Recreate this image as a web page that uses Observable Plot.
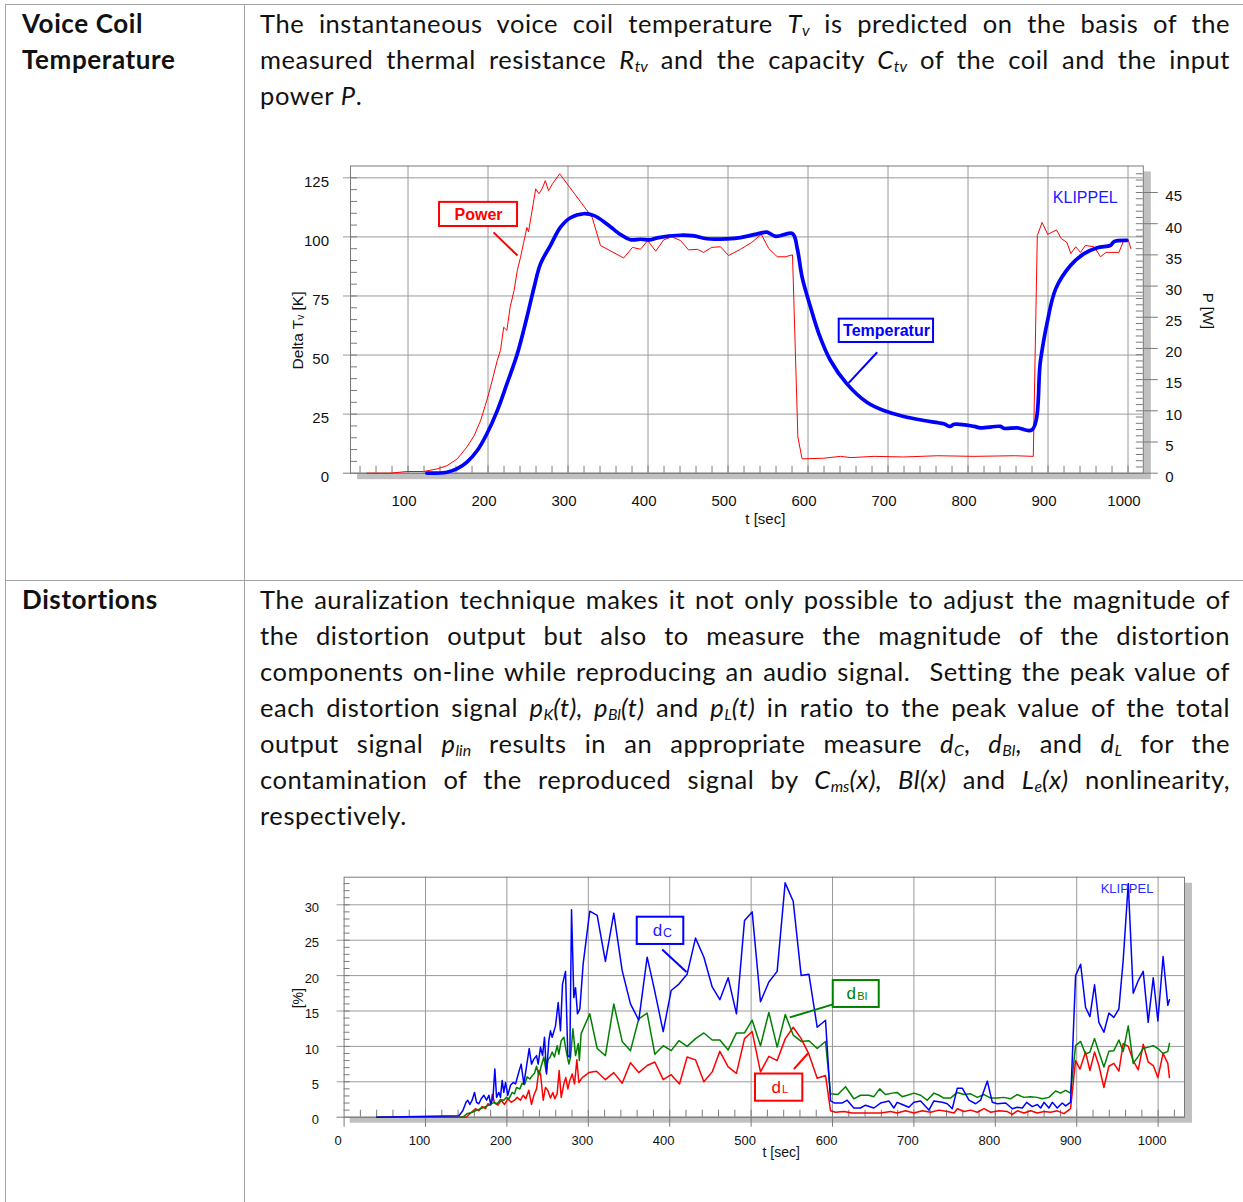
<!DOCTYPE html>
<html><head><meta charset="utf-8">
<script src="https://cdn.jsdelivr.net/npm/d3@7"></script>
<script src="https://cdn.jsdelivr.net/npm/@observablehq/plot@0.6"></script>
<style>
html,body{margin:0;padding:0;background:#fff;}
body{width:1243px;height:1202px;position:relative;overflow:hidden;font-family:Lato,"Open Sans",sans-serif;color:#111;}
.hl{position:absolute;height:1px;background:#a3a3a3;}
.vl{position:absolute;width:1px;background:#a3a3a3;}
.head{position:absolute;left:22px;font-weight:bold;font-size:26px;letter-spacing:0.6px;line-height:36px;}
.para{position:absolute;left:260px;width:970px;font-size:25.5px;letter-spacing:0.6px;line-height:36px;}
.para .ln{height:36px;text-align:justify;text-align-last:justify;}
.para .ln.last{text-align:left;text-align-last:left;}
sub{font-size:0.62em;vertical-align:-0.2em;line-height:0;letter-spacing:0;}
.chart{position:absolute;}
.chart svg{position:absolute;left:0;top:0;}
</style></head>
<body>
<div class="hl" style="left:5px;top:4px;width:1240px"></div>
<div class="hl" style="left:5px;top:580px;width:1240px"></div>
<div class="vl" style="left:5px;top:4px;height:1200px"></div>
<div class="vl" style="left:244px;top:4px;height:1200px"></div>

<div class="head" style="top:5px">Voice Coil<br>Temperature</div>
<div class="para" style="top:5px">
<div class="ln">The instantaneous voice coil temperature <i>T<sub>v</sub></i> is predicted on the basis of the</div>
<div class="ln">measured thermal resistance <i>R<sub>tv</sub></i> and the capacity <i>C<sub>tv</sub></i> of the coil and the input</div>
<div class="ln last">power <i>P</i>.</div>
</div>

<div class="head" style="top:581px">Distortions</div>
<div class="para" style="top:581px">
<div class="ln">The auralization technique makes it not only possible to adjust the magnitude of</div>
<div class="ln">the distortion output but also to measure the magnitude of the distortion</div>
<div class="ln">components on-line while reproducing an audio signal.&nbsp; Setting the peak value of</div>
<div class="ln">each distortion signal <i>p<sub>K</sub>(t), p<sub>Bl</sub>(t)</i> and <i>p<sub>L</sub>(t)</i> in ratio to the peak value of the total</div>
<div class="ln">output signal <i>p<sub>lin</sub></i> results in an appropriate measure <i>d<sub>C</sub></i>, <i>d<sub>Bl</sub></i>, and <i>d<sub>L</sub></i> for the</div>
<div class="ln">contamination of the reproduced signal by <i>C<sub>ms</sub>(x), Bl(x)</i> and <i>L<sub>e</sub>(x)</i> nonlinearity,</div>
<div class="ln last">respectively.</div>
</div>

<div class="chart" id="c1" style="left:280px;top:150px;width:960px;height:390px"></div>
<div class="chart" id="c2" style="left:290px;top:860px;width:950px;height:310px"></div>

<script>
// ---------- Chart 1 data: [t (sec), value] ----------
const temperature = [[123.6,0],[148.6,0.4],[161.6,1.9],[173.6,4.7],[186.6,9.6],[198.6,16.7],[211.6,26.5],[223.6,37.8],[236.6,50.5],[248.6,66],[257.6,78.7],[265.6,88.6],[278.1,96.4],[290.6,104.1],[303.1,108.1],[319.6,109.8],[332.6,109],[348.6,105.5],[365.6,101],[378.1,98.8],[390.6,99],[403.6,98.8],[411.6,99.6],[440.6,100.7],[457.6,100.4],[473.6,99.2],[498.6,99.2],[515.6,99.7],[540.6,101.6],[548.6,102],[559.6,100.2],[580.6,101.4],[586.6,95],[592.6,83],[603.1,70.3],[613.6,59],[628.1,47.7],[648.6,37.8],[673.6,30],[694.6,26.5],[719.6,24],[744.6,22.3],[769.6,20.9],[777.6,19.8],[782.6,20.7],[807.6,19.8],[815.6,19.2],[840.6,19.8],[844.6,19],[861.6,19.2],[880.1,18.4],[890.6,47.7],[898.6,63.2],[909.6,78],[928.1,87.9],[944.6,92.8],[961.6,95.4],[978.1,96.4],[982.6,98],[998.6,98.5]];
const power = [[48.6,0],[77.6,0],[98.6,0.27],[119.6,0.27],[136.6,0.7],[148.6,1.2],[161.6,2.3],[173.6,4.2],[182.6,6.0],[190.6,8.4],[198.6,11.7],[203.1,13.8],[211.6,18.1],[215.6,19.7],[219.6,23.4],[223.6,22.9],[227.6,26.6],[232.6,29.3],[236.6,32.5],[240.6,34.6],[244.6,37.0],[248.6,39.4],[250.6,38.7],[255.1,42.1],[259.6,45.6],[263.6,44.8],[267.6,45.6],[271.6,46.9],[275.6,45.3],[280.6,46.4],[289.6,48.0],[330.2,41.0],[340.6,36.5],[369.6,34.5],[380.6,36.2],[390.6,35.9],[399.6,37.3],[409.6,35.6],[419.6,37.4],[429.6,37.9],[440.6,37.3],[450.6,35.8],[461.6,35.9],[469.6,35.4],[479.6,36.2],[490.6,36.3],[500.6,34.9],[515.6,35.9],[529.6,37.0],[541.6,38.3],[551,36.0],[561.6,34.7],[571.6,34.7],[580.6,35.0],[587.3,5.8],[592.6,2.3],[619.6,2.4],[640.6,2.7],[653.6,2.5],[682.6,2.7],[719.6,2.6],[761.6,2.8],[807.6,2.7],[857.6,2.8],[881.6,2.7],[886.6,38.1],[892.6,40.2],[899.6,38.3],[910.6,39.0],[916.6,37.6],[923.6,37.0],[928.6,35.2],[934.6,36.3],[940.6,35.4],[946.6,36.5],[957.6,36.3],[965.6,34.7],[972.6,35.4],[988.6,35.4],[994.6,37.3],[1000.6,37.3],[1003.6,36.0]];
const c1TimeTicks = [100,200,300,400,500,600,700,800,900,1000];
const c1TempTicks = [0,25,50,75,100,125];
const c1PowerTicks = [0,5,10,15,20,25,30,35,40,45];
const c1Labels = ["Power","Temperatur","KLIPPEL","Delta Tᵥ [K]","P [W]","t [sec]"];

// ---------- Chart 2 data: [t (sec), %] ----------
const dC = [[40,0],[141,0.2],[145.8,0.9],[149.8,2.1],[152,2.4],[154.5,1.8],[157.3,2.4],[160.2,3.5],[162.7,2.1],[165.5,1.9],[168.4,2.6],[171.7,3.1],[175,2.4],[177.8,3.1],[180,1.9],[182.8,2.6],[185.2,6.8],[187.3,2.8],[190.1,3.5],[192.1,2.8],[194.2,5.2],[196.2,3.5],[198.3,4.9],[201.1,3.1],[204.4,4.5],[207.7,4.9],[210.6,4.7],[214.7,6.4],[217.5,7.5],[220.8,4.7],[224,7.1],[227.4,9.7],[230.2,7.5],[233.1,8.2],[236.4,8.7],[238.4,7.5],[241.3,9.9],[243.8,8.7],[246.2,11.3],[248.7,6.1],[251.5,10.8],[253.5,12.2],[255.6,11.3],[259.7,12.9],[263,16.2],[265.8,12.2],[268.3,18.8],[272,20.6],[274.8,8.7],[277.3,8.5],[279.4,29.3],[282.2,16.9],[284.3,18.3],[286.7,14.6],[289.6,15.3],[293.7,21.7],[301.8,29.1],[310.9,28.5],[321,22.0],[331.3,28.8],[341.6,20.7],[351.8,16.0],[362,13.7],[372.3,22.6],[380.5,18.4],[392,12.1],[401.8,17.9],[411.3,18.8],[421.4,20.2],[431.7,25.3],[442,22.6],[452.2,18.4],[461.6,16.6],[471.8,19.7],[482,14.6],[491.9,27.8],[501.3,29.0],[511.5,16.3],[521.8,19.1],[532,20.6],[541.8,33.1],[551.7,30.5],[561.5,20.0],[571,20.2],[581.2,12.7],[591.4,13.7],[597.6,2.3],[602.5,2.0],[611.7,2.0],[618,2.4],[626.2,1.3],[634.4,1.3],[640.5,1.7],[650.8,1.3],[659,2.0],[669.2,2.3],[675.3,1.3],[679.4,2.1],[685.6,1.8],[693.8,1.4],[700,2.1],[708.2,2.3],[718.4,1.0],[724.6,2.3],[734.8,2.1],[741,1.9],[747.1,1.2],[753.3,4.1],[759.4,4.1],[767.6,2.4],[775.8,1.9],[781.9,2.4],[790.2,5.1],[796.3,2.1],[802.4,1.9],[812.7,2.0],[820.9,1.2],[827,1.4],[833.2,1.3],[838.5,2.1],[845.4,1.5],[851.6,1.8],[855.7,1.3],[859.8,2.1],[865.8,1.3],[870,2.1],[876.1,1.3],[882.2,2.0],[886.3,1.6],[892.4,2.1],[898.6,20.0],[904.8,21.6],[910.9,15.5],[916.2,14.2],[921.9,18.7],[927.2,13.4],[933.4,12.0],[939.5,14.7],[945.6,14.1],[951.8,15.3],[957.1,22.2],[963.3,33.0],[969.4,17.5],[975.6,19.3],[981.7,20.6],[987.8,13.4],[994,19.7],[999.7,13.6],[1006.1,22.7],[1011.9,15.8],[1013.9,16.6]];
const dBl = [[40,0],[145,0],[147,0.1],[151,0.5],[157.3,0.7],[163.5,1.0],[169.6,1.3],[175.8,1.6],[180,1.8],[184,2.1],[188.1,1.9],[192.1,2.5],[196.2,2.4],[199.5,2.8],[202.4,2.6],[206.5,3.5],[209.3,3.3],[211.8,4.2],[215.9,4.0],[218.7,4.8],[221.6,4.6],[224.9,5.7],[228.2,5.4],[231.4,5.9],[233.9,6.2],[236.4,7.2],[239.2,5.9],[242.1,7.2],[245.4,8.5],[248.2,6.4],[250.7,8.2],[252.7,8.4],[255.6,9.2],[258.4,8.5],[261.8,10.1],[263.8,8.9],[266.7,10.8],[270,11.3],[272,9.9],[274.1,8.6],[276.2,7.5],[278.2,8.5],[281.1,12.5],[284.3,8.7],[287.6,10.4],[289,8.0],[291.2,11.8],[301.8,14.6],[310.9,9.7],[321,8.7],[331.3,16.0],[341.6,10.7],[351.8,9.4],[362,13.9],[372.3,14.7],[381.7,8.9],[392,10.1],[401.8,9.4],[411.3,10.8],[421.4,10.0],[431.7,11.1],[442,11.9],[452.2,10.9],[461.6,10.9],[471.8,9.5],[482,11.9],[491.9,11.9],[501.3,13.7],[511.5,10.1],[521.8,14.8],[532,9.9],[542,14.5],[551.7,11.6],[561.5,10.7],[571,10.8],[581.2,9.7],[591.4,10.7],[597.6,3.3],[606.6,3.2],[616,4.3],[626.2,2.6],[634.4,3.1],[644.6,3.1],[650.8,2.9],[658,4.0],[665,3.2],[673.2,3.4],[679.4,3.5],[685.6,2.9],[691.7,3.1],[700,3.4],[708.2,3.1],[716.3,2.4],[724.6,3.4],[730.8,3.1],[736.8,2.7],[745,2.7],[753.3,3.5],[761.5,3.2],[769.7,3.3],[777.9,2.8],[786.1,3.2],[794.4,2.7],[802.4,2.7],[810.5,2.8],[818.6,2.6],[826.7,3.2],[835,2.8],[843.2,2.9],[851.4,2.8],[857.5,2.6],[865.8,2.8],[874,3.7],[880.1,3.4],[886.3,3.8],[892.4,3.4],[898.6,10.1],[904.8,10.7],[910.9,8.9],[916.2,9.2],[921.9,11.1],[927.2,9.2],[933.4,7.1],[939.5,9.3],[945.6,9.4],[951.8,10.9],[957.1,9.3],[963.3,12.9],[969.4,7.6],[975.6,8.6],[981.7,9.7],[987.8,9.9],[994,10.1],[999.7,9.7],[1006.1,9.0],[1011.9,9.3],[1013.9,10.4]];
const dL = [[40,0],[150,0],[155.3,0.6],[161.4,1.2],[165.5,0.9],[169.6,1.5],[173.7,1.2],[176.6,1.9],[180,1.7],[182,3.2],[184.9,2.0],[189,1.7],[193.1,2.4],[197.1,1.8],[201.1,2.6],[205.3,2.1],[209.3,2.4],[212.6,2.8],[216.7,2.4],[220,3.1],[223.2,2.6],[226.9,3.8],[230.2,1.8],[233.1,3.1],[236.4,4.0],[239.2,6.6],[241.3,6.1],[244.6,2.4],[247.4,4.2],[250.2,3.8],[253.5,2.7],[256.4,3.5],[258.8,2.6],[261.7,3.3],[264.2,6.6],[266.7,2.8],[270,4.7],[272.4,5.6],[274.9,4.0],[277.3,5.2],[280.2,6.1],[283.1,4.7],[285.9,8.1],[288.4,4.9],[292.5,5.6],[300.7,6.3],[310,6.5],[321,5.3],[331.3,6.3],[341.6,4.8],[351.8,7.7],[362,6.3],[372.3,7.3],[381.7,7.8],[392,5.3],[401.8,6.0],[412,4.7],[421.4,8.5],[431.7,8.1],[442,5.0],[452.2,6.4],[461.6,9.3],[471.8,7.1],[482,6.2],[491.9,11.1],[501.3,12.1],[511.5,6.4],[521.8,8.6],[532,8.0],[542,11.1],[551.7,12.7],[561.5,11.1],[571,8.9],[581.2,5.5],[591.4,5.9],[597.6,0.9],[603.7,0.7],[614,0.8],[624.2,0.6],[634.4,0.6],[646.7,0.6],[659,0.6],[671.3,0.8],[679.4,0.6],[689.7,0.9],[700,0.6],[710.2,0.9],[720.5,0.7],[730.8,1.0],[741,0.8],[749.3,0.6],[753.3,1.2],[761.5,0.8],[769.7,1.0],[777.9,0.7],[786.1,1.2],[794.4,0.7],[804.6,0.9],[814.8,0.8],[820.9,0.4],[827,0.9],[835.2,0.6],[843.4,0.9],[851.6,0.6],[859.8,0.8],[868,0.7],[876.1,0.9],[884.4,0.5],[892.4,1.2],[898.6,8.0],[904,6.8],[910.9,9.2],[916.2,6.6],[921.9,9.2],[927.2,7.3],[933.4,4.2],[939.5,7.2],[945.6,7.6],[951.8,6.5],[957.1,10.4],[963.3,10.0],[969.4,8.0],[975.6,6.7],[981.7,10.3],[987.8,7.8],[994,7.3],[999.7,5.6],[1006.1,9.0],[1011.9,7.6],[1013.9,5.6]];
const c2TimeTicks = [0,100,200,300,400,500,600,700,800,900,1000];
const c2PctTicks = [0,5,10,15,20,25,30];
const c2Labels = ["KLIPPEL","[%]","t [sec]"];

// ---------- paragraph fitting ----------
document.querySelectorAll('.ln:not(.last)').forEach(ln => {
  const span = document.createElement('span');
  span.style.whiteSpace = 'nowrap';
  while (ln.firstChild) span.appendChild(ln.firstChild);
  ln.appendChild(span);
  const w = span.getBoundingClientRect().width;
  const avail = ln.clientWidth - 4;
  if (w > avail) {
    const cur = parseFloat(getComputedStyle(span).letterSpacing) || 0;
    span.style.letterSpacing = (cur + (avail - w) / span.textContent.length) + 'px';
  }
  span.style.whiteSpace = 'normal';
});

const FONT = "Liberation Sans, Arial, Helvetica, sans-serif";
const INK = "#111";
const GRID = "#9a9a9a", FRAME = "#7a7a7a", SHADOW = "#c0c0c0";
const pts = a => a.map(([t, v]) => ({t, v}));
const fmt = d => String(d);

// ---------- Chart 1 ----------
const W1 = 960, H1 = 390;
const m1 = {marginLeft: 70, marginRight: 97.2, marginTop: 15.5, marginBottom: 67.3};
const fw1 = W1 - m1.marginLeft - m1.marginRight, fh1 = H1 - m1.marginTop - m1.marginBottom;
const xDom1 = [28.1, 1019.1];
const base1 = {width: W1, height: H1, ...m1, style: {background: "transparent", fontFamily: FONT, fontSize: "15px", overflow: "visible"}};

const layerGrid = Plot.plot({
  ...base1,
  x: {domain: xDom1},
  y: {domain: [0, 130]},
  marks: [
    Plot.rect([0], {x1: 36.9, x2: 1029.1, y1: -2.75, y2: 127.5, fill: SHADOW}),
    Plot.frame({fill: "white", stroke: null}),
    Plot.ruleX(c1TimeTicks, {stroke: GRID}),
    Plot.ruleY(c1TempTicks.filter(d => d > 0), {stroke: GRID, insetLeft: -7}),
    Plot.ruleY(d3.range(5, 130, 5), {stroke: FRAME, insetRight: fw1 - 7}),
    Plot.ruleX(d3.range(40, 1019, 20), {stroke: FRAME, insetTop: fh1 - 7}),
    Plot.ruleY([0], {stroke: FRAME, insetLeft: -7}),
    Plot.frame({stroke: FRAME}),
    Plot.axisY({ticks: c1TempTicks, tickFormat: fmt, tickSize: 0, tickPadding: 21.5, dy: 4, label: null, fontSize: 15, fontFamily: FONT, fill: INK}),
    Plot.axisX({ticks: c1TimeTicks, tickFormat: fmt, tickSize: 0, tickPadding: 22.5, dx: -4, label: null, fontSize: 15, fontFamily: FONT, fill: INK}),
    Plot.text([c1Labels[5]], {x: 546.6, frameAnchor: "bottom", dy: 46.3, lineAnchor: "middle", textAnchor: "middle", text: d => d, fontSize: 15, fontFamily: FONT, fill: INK}),
    Plot.text([c1Labels[3]], {frameAnchor: "left", dx: -52, y: 60.4, rotate: -90, lineAnchor: "middle", textAnchor: "middle", text: d => d, fontSize: 15.5, fontFamily: FONT, fill: INK})
  ]
});

const layerPower = Plot.plot({
  ...base1,
  x: {domain: xDom1, axis: null},
  y: {domain: [0, 49.25]},
  marks: [
    Plot.line(pts(power), {x: "t", y: "v", stroke: "#ff0000", strokeWidth: 1}),
    Plot.ruleY(d3.range(1, 49, 1), {stroke: FRAME, insetLeft: fw1 - 7}),
    Plot.ruleY(c1PowerTicks, {stroke: FRAME, insetLeft: fw1, insetRight: -15}),
    Plot.axisY({anchor: "right", ticks: c1PowerTicks, tickFormat: fmt, tickSize: 0, tickPadding: 22, dy: 4, label: null, fontSize: 15, fontFamily: FONT, fill: INK}),
    Plot.text([c1Labels[4]], {frameAnchor: "right", dx: 65, y: 26, rotate: 90, lineAnchor: "middle", textAnchor: "middle", text: d => d, fontSize: 15, fontFamily: FONT, fill: INK})
  ]
});

const layerTemp = Plot.plot({
  ...base1,
  x: {domain: xDom1, axis: null},
  y: {domain: [0, 130], axis: null},
  marks: [
    Plot.line(pts(temperature), {x: "t", y: "v", stroke: "#0000ff", strokeWidth: 3.7, curve: "catmull-rom", strokeLinejoin: "round"}),
    Plot.link([0], {x1: 206.9, y1: 101.9, x2: 236.9, y2: 92.1, stroke: "#ff0000", strokeWidth: 2}),
    Plot.rect([0], {x1: 139.4, x2: 236.9, y1: 104.4, y2: 114.6, fill: "white", stroke: "#ff0000", strokeWidth: 2}),
    Plot.text([c1Labels[0]], {x: 188.1, y: 109.5, text: d => d, fill: "#ff0000", fontWeight: "bold", fontSize: 16, fontFamily: FONT}),
    Plot.link([0], {x1: 686.5, y1: 51.2, x2: 650.6, y2: 38.1, stroke: "#0000ff", strokeWidth: 2}),
    Plot.rect([0], {x1: 639, x2: 756.9, y1: 55.3, y2: 65.2, fill: "white", stroke: "#0000ff", strokeWidth: 2}),
    Plot.text([c1Labels[1]], {x: 698.1, y: 60.2, text: d => d, fill: "#0000ff", fontWeight: "bold", fontSize: 16, fontFamily: FONT}),
    Plot.text([c1Labels[2]], {x: 946.6, y: 116.7, text: d => d, fill: "#1a1aff", fontSize: 16, fontFamily: FONT})
  ]
});
document.getElementById("c1").append(layerGrid, layerPower, layerTemp);

// ---------- Chart 2 ----------
const W2 = 950, H2 = 310;
const m2 = {marginLeft: 53.6, marginRight: 56, marginTop: 16.7, marginBottom: 53.3};
const fw2 = W2 - m2.marginLeft - m2.marginRight, fh2 = H2 - m2.marginTop - m2.marginBottom;
const dist = Plot.plot({
  width: W2, height: H2, ...m2,
  style: {background: "transparent", fontFamily: FONT, fontSize: "13px", overflow: "visible"},
  x: {domain: [0, 1032.4]},
  y: {domain: [0, 33.9]},
  marks: [
    Plot.rect([0], {x1: 7.4, x2: 1042.2, y1: -0.85, y2: 33.05, fill: SHADOW}),
    Plot.frame({fill: "white", stroke: null}),
    Plot.ruleX(c2TimeTicks.filter(d => d > 0), {stroke: GRID}),
    Plot.ruleY(c2PctTicks.filter(d => d > 0), {stroke: GRID, insetLeft: -7}),
    Plot.ruleY(d3.range(1, 34, 1), {stroke: FRAME, insetRight: fw2 - 6}),
    Plot.ruleX(d3.range(20, 1031, 20), {stroke: FRAME, insetTop: fh2 - 7}),
    Plot.ruleX(c2TimeTicks, {stroke: FRAME, insetTop: fh2, insetBottom: -10}),
    Plot.ruleY([0], {stroke: FRAME, insetLeft: -7}),
    Plot.frame({stroke: FRAME}),
    Plot.axisY({ticks: c2PctTicks, tickFormat: fmt, tickSize: 0, tickPadding: 25, dy: 3, label: null, fontSize: 13, fontFamily: FONT, fill: INK}),
    Plot.axisX({ticks: c2TimeTicks, tickFormat: fmt, tickSize: 0, tickPadding: 18.6, dx: -6, label: null, fontSize: 13, fontFamily: FONT, fill: INK}),
    Plot.text([c2Labels[2]], {x: 537, frameAnchor: "bottom", dy: 35.3, lineAnchor: "middle", textAnchor: "middle", text: d => d, fontSize: 14, fontFamily: FONT, fill: INK}),
    Plot.text([c2Labels[1]], {frameAnchor: "left", dx: -45.6, y: 16.8, rotate: -90, lineAnchor: "middle", textAnchor: "middle", text: d => d, fontSize: 14, fontFamily: FONT, fill: INK}),
    Plot.line(pts(dL), {x: "t", y: "v", stroke: "#ff0000", strokeWidth: 1.5}),
    Plot.line(pts(dBl), {x: "t", y: "v", stroke: "#008000", strokeWidth: 1.5}),
    Plot.line(pts(dC), {x: "t", y: "v", stroke: "#0000ff", strokeWidth: 1.5}),
    // dC annotation
    Plot.link([0], {x1: 390.8, y1: 23.7, x2: 420.6, y2: 20.5, stroke: "#0000ff", strokeWidth: 2}),
    Plot.rect([0], {x1: 360.1, x2: 417.3, y1: 24.4, y2: 28.25, fill: "white", stroke: "#0000ff", strokeWidth: 2}),
    Plot.text(["d"], {x: 388.7, y: 26.3, dx: -3, text: d => d, fill: "#2020ff", fontSize: 17, fontFamily: FONT}),
    Plot.text(["C"], {x: 388.7, y: 26.3, dx: 7, dy: 2, text: d => d, fill: "#2020ff", fontSize: 12.5, fontFamily: FONT}),
    // dBl annotation
    Plot.link([0], {x1: 599.6, y1: 15.9, x2: 547.5, y2: 14.1, stroke: "#008000", strokeWidth: 2}),
    Plot.rect([0], {x1: 600.9, x2: 657.4, y1: 15.5, y2: 19.3, fill: "white", stroke: "#008000", strokeWidth: 2}),
    Plot.text(["d"], {x: 629.1, y: 17.4, dx: -5, text: d => d, fill: "#008000", fontSize: 17, fontFamily: FONT}),
    Plot.text(["Bl"], {x: 629.1, y: 17.4, dx: 6, dy: 2, text: d => d, fill: "#008000", fontSize: 11, fontFamily: FONT}),
    // dL annotation
    Plot.link([0], {x1: 552.5, y1: 6.8, x2: 569.7, y2: 9.0, stroke: "#ff0000", strokeWidth: 2}),
    Plot.rect([0], {x1: 505.4, x2: 563.5, y1: 2.26, y2: 6.1, fill: "white", stroke: "#ff0000", strokeWidth: 2}),
    Plot.text(["d"], {x: 534.4, y: 4.2, dx: -3, text: d => d, fill: "#ff0000", fontSize: 17, fontFamily: FONT}),
    Plot.text(["L"], {x: 534.4, y: 4.2, dx: 6, dy: 2, text: d => d, fill: "#ff0000", fontSize: 11, fontFamily: FONT}),
    Plot.text([c2Labels[0]], {x: 961.8, y: 32.2, text: d => d, fill: "#2b2bff", fontSize: 13, fontFamily: FONT})
  ]
});
document.getElementById("c2").append(dist);
</script>
</body></html>
